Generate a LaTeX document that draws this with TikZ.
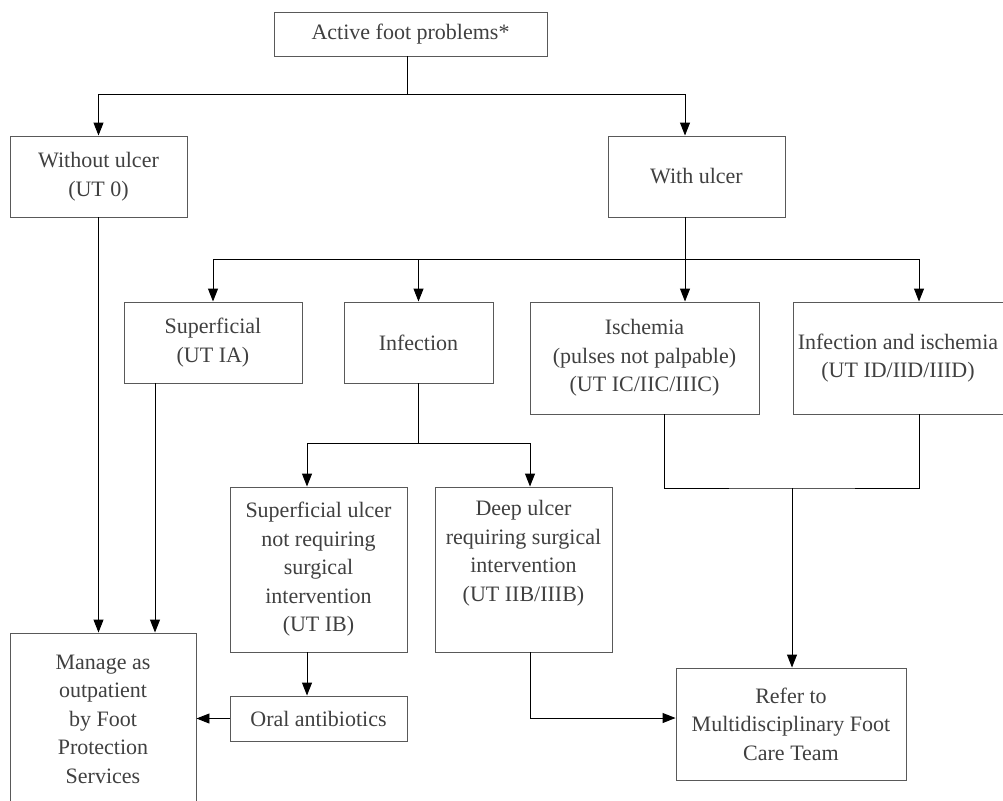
\documentclass[tikz,border=0pt]{standalone}
\usepackage{fontspec}
\setmainfont{Liberation Serif}
\usetikzlibrary{arrows.meta}
\begin{document}
\begin{tikzpicture}[x=1pt,y=-1pt,
  box/.style={draw=black!65, line width=0.95pt, inner sep=0pt, align=center,
    text=black!75, font=\fontsize{22}{28.5}\selectfont},
  conn/.style={line width=0.95pt, draw=black},
  arr/.style={conn, -{Triangle[length=13pt,width=10pt]}}]
\useasboundingbox (0,0) rectangle (1003,800);
\fill[white] (0,0) rectangle (1003,800);

\node[box, minimum width=273pt, minimum height=44pt] (act) at (410.5,34) {Active foot problems*};
\node[box, minimum width=177pt, minimum height=81pt] (wo) at (98.5,176.5) {Without ulcer\\(UT 0)};
\node[box, minimum width=177pt, minimum height=81pt] (wu) at (696.5,176.5) {With ulcer};
\node[box, minimum width=178pt, minimum height=81pt] (sup) at (213,342.5) {Superficial\\(UT IA)};
\node[box, minimum width=149pt, minimum height=81pt] (inf) at (418.5,342.5) {Infection};
\node[box, minimum width=229pt, minimum height=112pt] (isc) at (644.5,358) {Ischemia\\(pulses not palpable)\\(UT IC/IIC/IIIC)};
\node[box, minimum width=210pt, minimum height=112pt] (ii) at (898,358) {Infection and ischemia\\(UT ID/IID/IIID)};
\node[box, minimum width=177pt, minimum height=165pt] (su) at (318.5,569.5) {Superficial ulcer\\not requiring\\surgical\\intervention\\(UT IB)};
\node[box, minimum width=177pt, minimum height=165pt] (deep) at (523.5,569.5) {Deep ulcer\\requiring surgical\\intervention\\(UT IIB/IIIB)\\\strut};
\node[box, minimum width=177pt, minimum height=45pt] (oral) at (318.5,718.5) {Oral antibiotics};
\node[box, minimum width=186pt, minimum height=172pt] (man) at (103,719) {Manage as\\outpatient\\by Foot\\Protection\\Services};
\node[box, minimum width=230pt, minimum height=112pt] (ref) at (791,724) {Refer to\\Multidisciplinary Foot\\Care Team};

% top split
\coordinate (j1) at (407,94);
\draw[conn] ([xshift=-3.5pt]act.south) -- (j1);
\draw[arr] (j1) -| (wo.north);
\draw[arr] (j1) -| ([xshift=-11.5pt]wu.north);

% with ulcer split
\coordinate (j2) at (685,259);
\draw[conn] ([xshift=-11.5pt]wu.south) -- (j2);
\draw[arr] (j2) -- (j2 |- isc.north);
\draw[arr] (j2) -| (sup.north);
\draw[arr] (j2) -| (inf.north);
\draw[arr] (j2) -| ([xshift=21pt]ii.north);

% infection split
\coordinate (j3) at (418.5,443);
\draw[conn] (inf.south) -- (j3);
\draw[arr] (j3) -| ([xshift=-11.5pt]su.north);
\draw[arr] (j3) -| ([xshift=6.5pt]deep.north);

% ischemia merge
\coordinate (j4) at (792,488);
\draw[conn] ([xshift=19.5pt]isc.south) |- (j4) -| ([xshift=21pt]ii.south);
\draw[arr] (j4) -- (j4 |- ref.north);

% deep to refer
\draw[arr] ([xshift=6.5pt]deep.south) |- ([yshift=6pt]ref.west);

% superficial ulcer to oral antibiotics to manage
\draw[arr] ([xshift=-11.5pt]su.south) -- ([xshift=-11.5pt]oral.north);
\draw[arr] (oral.west) -- (oral.west -| man.east);

% to manage
\draw[arr] (wo.south) -- (wo.south |- man.north);
\coordinate (sb) at ([xshift=-58pt]sup.south);
\draw[arr] (sb) -- (sb |- man.north);
\end{tikzpicture}
\end{document}
